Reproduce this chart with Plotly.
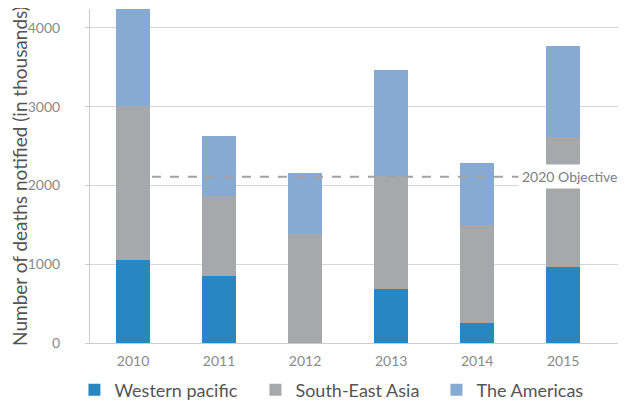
import plotly.graph_objects as go

# Data (thousands of deaths notified)
years = ["2010", "2011", "2012", "2013", "2014", "2015"]
western_pacific = [1060, 850, 0, 690, 260, 970]
south_east_asia = [1950, 1020, 1390, 1430, 1240, 1645]
the_americas = [1230, 760, 770, 1345, 785, 1160]
objective_2020 = 2110

colors = {
    "Western pacific": "#2886c0",
    "South-East Asia": "#a7a8ac",
    "The Americas": "#86aad2",
}

FONT = "Lato, 'Open Sans', sans-serif"

fig = go.Figure()

for name, values in [("Western pacific", western_pacific),
                     ("South-East Asia", south_east_asia),
                     ("The Americas", the_americas)]:
    fig.add_trace(go.Bar(
        x=years,
        y=values,
        name=name,
        marker=dict(color=colors[name], line=dict(width=0)),
        width=0.4,
    ))

# 2020 objective dashed reference line with its label
fig.add_shape(
    type="line", xref="x", yref="y",
    x0=0.22, x1=4.55, y0=objective_2020, y1=objective_2020,
    line=dict(color="#a3a3a3", width=2, dash="dash"),
    layer="above",
)
fig.add_annotation(
    x=4.47, y=objective_2020, xref="x", yref="y",
    text="2020 Objective", showarrow=False,
    xanchor="left", yanchor="middle",
    bgcolor="white", borderpad=3,
    font=dict(family=FONT, size=14, color="#808080"),
)

# page body adds an 8px margin, so the figure is 8px smaller than the window
fig.update_layout(
    width=618, height=395,
    barmode="stack",
    plot_bgcolor="white", paper_bgcolor="white",
    margin=dict(l=82, r=0, t=1, b=60, autoexpand=False),
    font=dict(family=FONT, color="#555555"),
    showlegend=True,
    legend=dict(
        orientation="h",
        x=-0.029, y=-0.141, xanchor="left", yanchor="middle",
        font=dict(family=FONT, size=18, color="#555555"),
        entrywidth=136, entrywidthmode="pixels",
        traceorder="normal",
        bgcolor="rgba(0,0,0,0)",
    ),
)

fig.update_xaxes(
    range=[-0.5, 5.73],
    showgrid=False,
    showline=True, linecolor="#cccccc", linewidth=1,
    ticks="", ticklabelstandoff=5,
    tickfont=dict(family=FONT, size=14, color="#8a8a8a"),
)

fig.update_yaxes(
    range=[0, 4240],
    tickvals=[0, 1000, 2000, 3000, 4000],
    showgrid=True, gridcolor="#d6d6d6", gridwidth=1,
    zeroline=False,
    showline=True, linecolor="#cccccc", linewidth=1,
    ticks="outside", ticklen=4, tickcolor="#cccccc",
    ticklabelstandoff=22,
    tickfont=dict(family=FONT, size=14, color="#8a8a8a"),
    title=dict(text="Number of deaths notified (in thousands)",
               font=dict(family=FONT, size=19, color="#555555"),
               standoff=5),
)

fig.write_html("out.html")
